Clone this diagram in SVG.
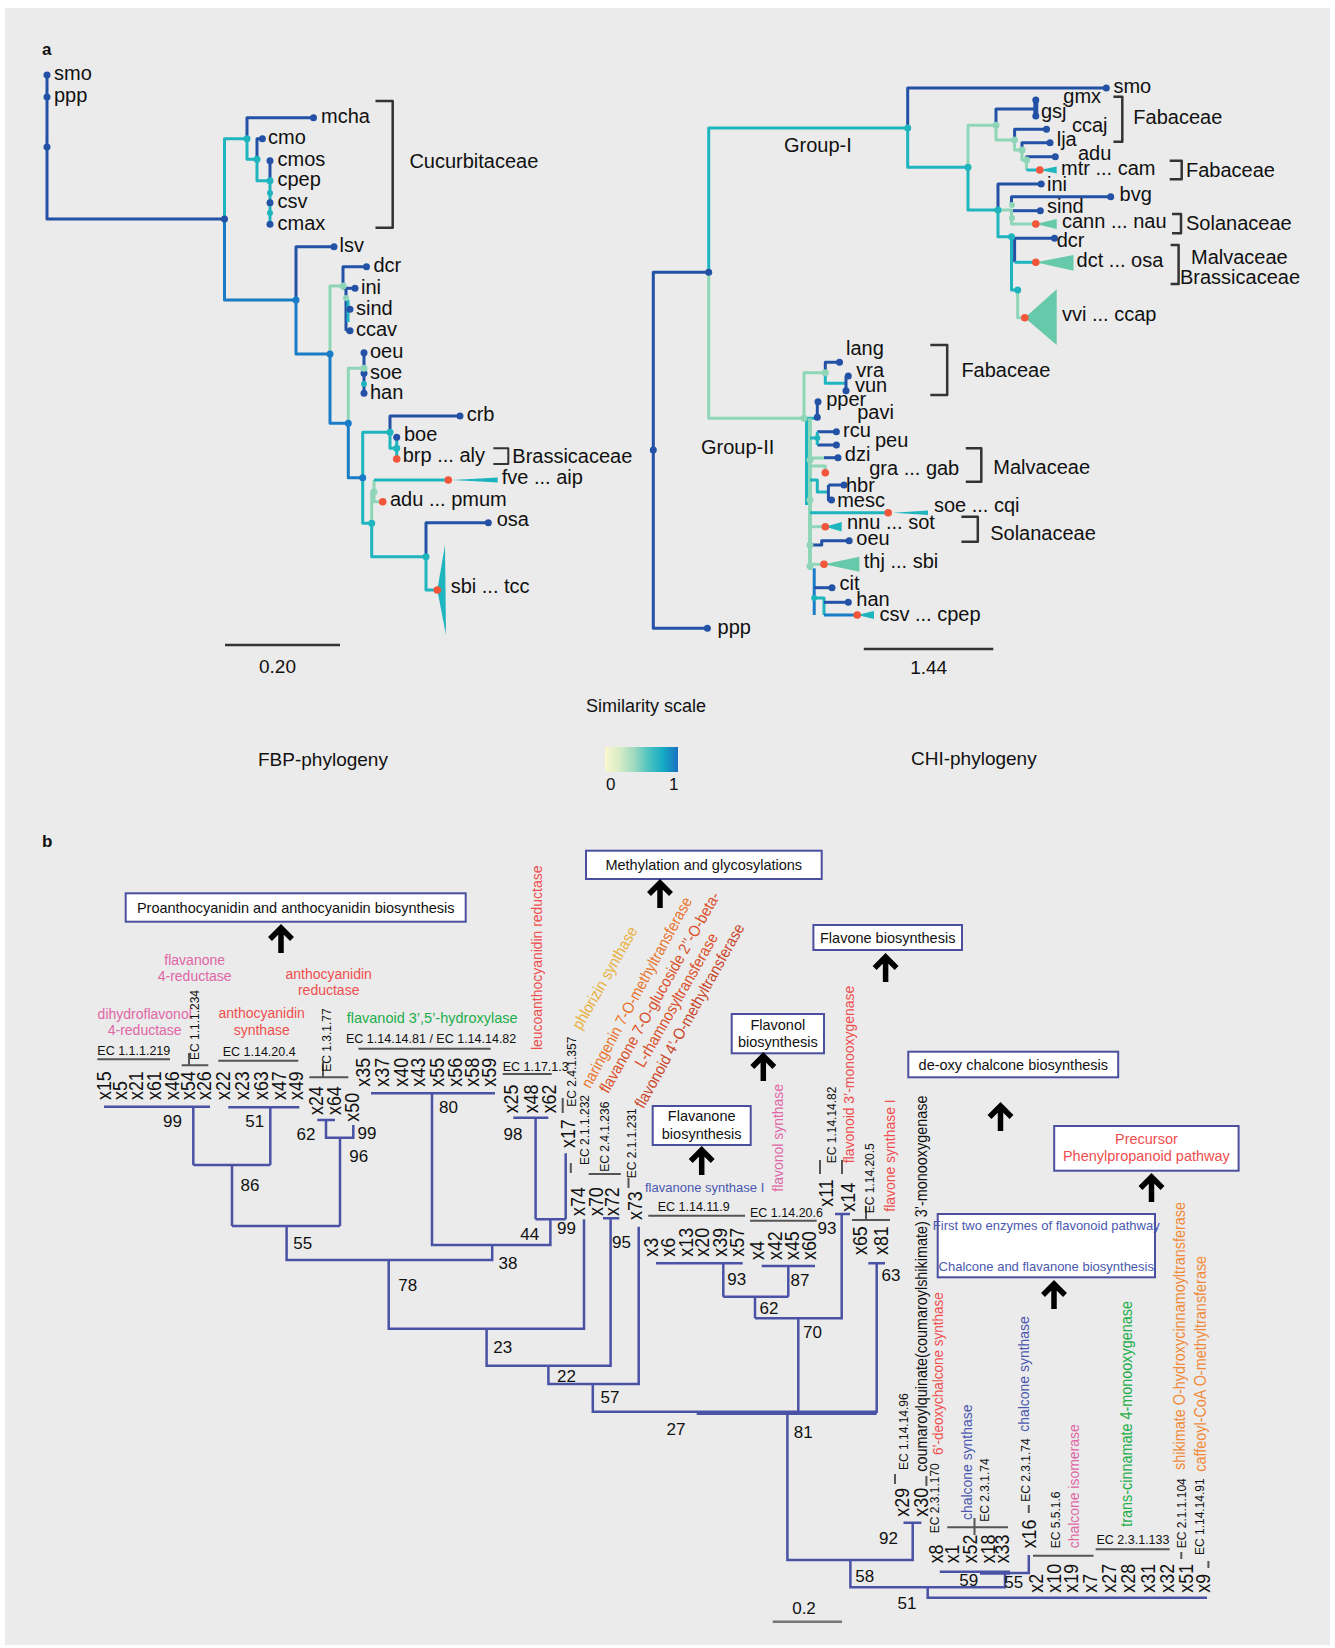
<svg xmlns="http://www.w3.org/2000/svg" width="1335" height="1648" viewBox="0 0 1335 1648">
<defs>
<linearGradient id="sim" x1="0" x2="1" y1="0" y2="0">
<stop offset="0" stop-color="#fbf7cf"/><stop offset="0.2" stop-color="#d6ecc6"/><stop offset="0.4" stop-color="#9fd9c0"/><stop offset="0.6" stop-color="#4cc2c0"/><stop offset="0.8" stop-color="#14aac4"/><stop offset="1" stop-color="#1a6fbf"/>
</linearGradient>
<path id="arr" d="M0,0 V-22 M-11,-14 L0,-25 L11,-14" stroke="#000" stroke-width="5.5" fill="none"/>
</defs>
<style>
text{font-family:"Liberation Sans",Arial,sans-serif;fill:#111}
.a20{font-size:20px}
.lab{font-size:19px}
.lf{font-size:21px}
.bs{font-size:17px}
.ec{font-size:12px}
.ech{font-size:12.5px}
.en{font-size:14px}
.en5{font-size:14.5px}
.er{font-size:15.5px}
.ed{font-size:16px}
.bxt{font-size:14.5px;text-anchor:middle}
.bx{fill:#fff;stroke:#4a4f9e;stroke-width:2}
.tr{stroke:#4a52a6;stroke-width:2.5;fill:none}
.gl{stroke:#555;stroke-width:2;fill:none}
.B{stroke:#2251a6}.M{stroke:#1a7cc6}.T{stroke:#1fb5be}.L{stroke:#8fd6b8}
.dB{fill:#2251a6}.dM{fill:#1a7cc6}.dT{fill:#1fb5be}.dL{fill:#8fd6b8}.dR{fill:#f2553a}
.red{fill:#f04e4e}.pink{fill:#e066a6}.grn{fill:#1fae4a}.org{fill:#f08a3a}.blu{fill:#4a58b0}
</style>
<rect width="1335" height="1648" fill="#fff"/>
<rect x="5" y="8" width="1325" height="1637" fill="#ebebeb"/>

<text x="42" y="55" style="font-size:17px;font-weight:bold">a</text>
<text x="42" y="847" style="font-size:17px;font-weight:bold">b</text>

<!-- FBP tree -->
<g id="fbp-connectors" fill="none" stroke-width="3" stroke-linejoin="round">
<path class="B" d="M47,75 V219 H224.5"/>
<path class="T" d="M224.5,219 V138.7 H247"/>
<path class="M" d="M224.5,219 V300 H296"/>
<path class="B" d="M247,138.7 V117.7 H313.5"/>
<path class="T" d="M247,138.7 V159.3 H257"/>
<path class="B" d="M257,159.3 V138.7 H262.4"/>
<path class="T" d="M257,159.3 V180.7 H270"/>
<path class="B" d="M270,160.7 V180.7"/>
<path class="T" d="M270,180.7 V224.3"/>
<path class="B" d="M296,300 V246.7 H334"/>
<path class="M" d="M296,300 V354 H330"/>
<path class="L" d="M330,354 V286 H343"/>
<path class="B" d="M343,286 V266.7 H366.5"/>
<path class="B" d="M343,288.3 H355 M346,288.3 V330.7 M346,309.3 H350 M346,330.7 H350"/>
<path class="T" d="M348,300 V322"/>
<path class="M" d="M330,354 V423.3 H348.3"/>
<path class="L" d="M348.3,423.3 V368.3 H364"/>
<path class="B" d="M364,352.7 V393.3"/>
<path class="M" d="M348.3,423.3 V477.7 H362.7"/>
<path class="T" d="M362.7,477.7 V432.3 H390"/>
<path class="B" d="M390,432.3 V416 H460"/>
<path class="T" d="M390,432.3 V448.3 H396.7 V437.3 M396.7,448.3 V457"/>
<path class="T" d="M362.7,477.7 V523.3 H371.7"/>
<path class="L" d="M371.7,523.3 V491.7 H374 V480"/>
<path class="T" d="M374,480 H448.3"/>
<path class="L" d="M374,491.7 V501.7 H382.7"/>
<path class="T" d="M371.7,523.3 V556.7 H426"/>
<path class="B" d="M426,556.7 V522.7 H488.3"/>
<path class="T" d="M426,556.7 V590 H437.3"/>
<path d="M375.5,101 H392.7 V227.7 H375.5" stroke="#333" stroke-width="2.5"/>
<path d="M493.3,448.3 H508.3 V464 H493.3" stroke="#333" stroke-width="2"/>
<path d="M225,645 H340" stroke="#333" stroke-width="2.5"/>
</g>
<g id="fbp-nodes">
<polygon points="452,480 497.7,477.5 497.7,482.5" fill="#1fb5be"/>
<polygon points="437.3,590 445,545 446,635" fill="#1fb5be"/>
<g class="dB">
<circle cx="47" cy="75" r="3.5"/><circle cx="47" cy="97" r="3.5"/><circle cx="47" cy="147" r="3.5"/><circle cx="224.5" cy="219" r="3.5"/><circle cx="313.5" cy="117.7" r="3.5"/><circle cx="262.4" cy="138.7" r="3.5"/><circle cx="270" cy="160.7" r="3.5"/><circle cx="270" cy="202.7" r="3.5"/><circle cx="270" cy="224.3" r="3.5"/><circle cx="334" cy="246.7" r="3.5"/><circle cx="366.5" cy="266.7" r="3.5"/><circle cx="355" cy="288.3" r="3.5"/><circle cx="350" cy="309.3" r="3.5"/><circle cx="350" cy="330.7" r="3.5"/><circle cx="364" cy="352.7" r="3.5"/><circle cx="364" cy="373.3" r="3.5"/><circle cx="364" cy="393.3" r="3.5"/><circle cx="460" cy="416" r="3.5"/><circle cx="396.7" cy="437.3" r="3.5"/><circle cx="488.3" cy="522.7" r="3.5"/>
</g>
<g class="dM"><circle cx="296" cy="300" r="3.5"/><circle cx="330" cy="354" r="3.5"/><circle cx="348.3" cy="423.3" r="3.5"/><circle cx="362.7" cy="477.7" r="3.5"/></g>
<g class="dT"><circle cx="247" cy="138.7" r="3.5"/><circle cx="257" cy="159.3" r="3.5"/><circle cx="270" cy="180.7" r="3.5"/><circle cx="270" cy="193" r="3"/><circle cx="270" cy="213" r="3"/><circle cx="364" cy="384" r="3"/><circle cx="390" cy="432.3" r="3.5"/><circle cx="396.7" cy="448.3" r="3.5"/><circle cx="371.7" cy="523.3" r="3.5"/><circle cx="426" cy="556.7" r="3.5"/></g>
<g class="dL"><circle cx="343" cy="286" r="3.5"/><circle cx="346" cy="298" r="3"/><circle cx="364" cy="368.3" r="3.5"/><circle cx="374" cy="491.7" r="3.5"/></g>
<g class="dR"><circle cx="396.7" cy="459" r="3.8"/><circle cx="448.3" cy="480" r="3.8"/><circle cx="382.7" cy="501.7" r="3.8"/><circle cx="437.3" cy="590" r="3.8"/></g>
</g>
<g id="fbp-labels" class="a20">
<text x="54" y="80">smo</text><text x="54" y="102">ppp</text>
<text x="321" y="123">mcha</text><text x="268" y="144">cmo</text>
<text x="277.5" y="166">cmos</text><text x="277.5" y="186">cpep</text><text x="277.5" y="208">csv</text><text x="277.5" y="229.5">cmax</text>
<text x="409.4" y="168">Cucurbitaceae</text>
<text x="339.6" y="252">lsv</text><text x="373.5" y="272">dcr</text>
<text x="361" y="293.5">ini</text><text x="356" y="314.5">sind</text><text x="356" y="336">ccav</text>
<text x="370" y="358">oeu</text><text x="370" y="378.5">soe</text><text x="370" y="398.5">han</text>
<text x="466.7" y="421">crb</text><text x="404" y="441">boe</text>
<text x="402.7" y="462">brp ...  aly</text><text x="512.3" y="463">Brassicaceae</text>
<text x="501.7" y="484">fve  ... aip</text><text x="390" y="506">adu ... pmum</text>
<text x="496.7" y="526">osa</text><text x="450.7" y="593">sbi ... tcc</text>
<text x="277.5" y="673" text-anchor="middle" class="lab">0.20</text>
</g>

<!-- CHI tree -->
<g id="chi-connectors" fill="none" stroke-width="3" stroke-linejoin="round">
<path class="B" d="M707.4,628.3 H653.3 V272.3 H708.7"/>
<path class="T" d="M708.7,272.3 V128 H907.7"/>
<path class="L" d="M708.7,272.3 V418.3 H804"/>
<path class="B" d="M907.7,128 V88 H1106.3"/>
<path class="T" d="M907.7,128 V167.3 H968"/>
<path class="L" d="M968,167.3 V125.3 H996"/>
<path class="B" d="M996,125.3 V109 H1035.8"/>
<path class="B" d="M1035.8,100 V116.7" stroke-width="5"/>
<path class="L" d="M996,125.3 V140 H1014.6 V150 H1022 V160 H1026.5 V170"/>
<path class="B" d="M1014.6,140 V129.3 H1046.5"/>
<path class="B" d="M1022,150 V142.7 H1050"/>
<path class="B" d="M1026.5,160 V156.7 H1055.3"/>
<path class="T" d="M1026.5,170 H1039.8"/>
<path class="T" d="M968,167.3 V210 H998"/>
<path class="B" d="M998,210 V184 H1041.2"/>
<path class="B" d="M1011.5,206 V196.7 H1110.7"/>
<path class="B" d="M1011.5,210.7 H1040.3"/>
<path class="L" d="M998,210 H1011.5 V224 H1035.8"/>
<path class="T" d="M998,210 V236.7 H1011.5"/>
<path class="B" d="M1011.5,238.3 H1054.5 M1014.6,238.3 V262.3"/>
<path class="T" d="M1014.6,262.3 H1035.8"/>
<path class="T" d="M1011.5,236.7 V290 H1017.7"/>
<path class="L" d="M1017.7,290 V317.7 H1024.8"/>
<path class="L" d="M804,418.3 V372.7 H825.3"/>
<path class="B" d="M825.3,372.7 V362.3 H839.5"/>
<path class="T" d="M825.3,372.7 V383.3 H846"/>
<path class="B" d="M846,376 V390.7"/>
<path class="T" d="M804,418.3 H817.3"/>
<path class="B" d="M817.3,401.7 V418.3"/>
<path class="L" d="M810,418.3 V570" stroke-width="4"/>
<path class="T" d="M806.5,418.3 V505"/>
<path class="B" d="M817.3,431.7 H836.4 M817.3,445 H836.4"/>
<path class="T" d="M810,438 H817.3 M817.3,431.7 V445"/>
<path class="B" d="M824,457.7 H838"/>
<path class="L" d="M810,458 H824 M810,466 H825.3 V472.7"/>
<path class="T" d="M810,480 H817.3 V492 H828.4"/>
<path class="B" d="M828.4,485 H844 M828.4,485 V500 H831.5"/>
<path class="T" d="M810,512.7 H888.2"/>
<path class="L" d="M810,526.7 H825.3"/>
<path class="B" d="M812,545 H821.7 V540.7 H849.2"/>
<path class="L" d="M810,564.3 H824"/>
<path class="M" d="M814.2,568.3 V615"/>
<path class="B" d="M814.2,587.7 H832"/>
<path class="T" d="M814.2,598 H824 V615"/>
<path class="B" d="M824,602.3 H848.3"/>
<path class="M" d="M824,615 H857.2"/>
<g stroke="#333" stroke-width="2.5">
<path d="M1113.4,96.7 H1122.3 V141.7 H1113.4"/>
<path d="M1169.7,160.7 H1181.7 V179.3 H1169.7"/>
<path d="M1172,214 H1181 V233.3 H1172"/>
<path d="M1170.6,245 H1178.6 V284 H1170.6"/>
<path d="M930.3,345 H947.2 V395 H930.3"/>
<path d="M965.8,448.3 H981.3 V481.7 H965.8"/>
<path d="M961.4,516.7 H977.8 V541.7 H961.4"/>
<path d="M863.8,649 H993.3"/>
</g>
</g>
<g id="chi-nodes">
<polygon points="1039.8,170 1056.7,166.5 1056.7,173.5" fill="#1fb5be"/>
<polygon points="1035.8,224 1056.7,219 1056.7,229" fill="#66c9aa"/>
<polygon points="1035.8,262.3 1073.5,255 1073.5,270.7" fill="#66c9aa"/>
<polygon points="1024.8,317.7 1056.7,289.3 1056.7,345" fill="#66c9aa"/>
<polygon points="893,512.7 928,510.5 928,514.9" fill="#1fb5be"/>
<polygon points="825.3,526.7 841.7,522 841.7,531.4" fill="#1fb5be"/>
<polygon points="824,564.3 859.4,556.7 859.4,571.7" fill="#66c9aa"/>
<polygon points="857.2,615 874,611 874,619" fill="#1fb5be"/>
<g class="dB">
<circle cx="707.4" cy="628.3" r="3.5"/><circle cx="653.3" cy="450" r="3.5"/><circle cx="708.7" cy="272.3" r="3.5"/><circle cx="1106.3" cy="88" r="3.5"/><circle cx="1035.8" cy="100" r="3.5"/><circle cx="1035.8" cy="116" r="3.5"/><circle cx="1046.5" cy="129.3" r="3.5"/><circle cx="1050" cy="142.7" r="3.5"/><circle cx="1055.3" cy="156.7" r="3.5"/><circle cx="1041.2" cy="184" r="3.5"/><circle cx="1110.7" cy="196.7" r="3.5"/><circle cx="1040.3" cy="210.7" r="3.5"/><circle cx="1054.5" cy="238.3" r="3.5"/><circle cx="839.5" cy="362.3" r="3.5"/><circle cx="848.3" cy="376" r="3.5"/><circle cx="846" cy="390.7" r="3.5"/><circle cx="818" cy="401.7" r="3.5"/><circle cx="817.3" cy="417.3" r="3.5"/><circle cx="836.4" cy="431.7" r="3.5"/><circle cx="836.4" cy="445" r="3.5"/><circle cx="838" cy="457.7" r="3.5"/><circle cx="844" cy="485" r="3.5"/><circle cx="831.5" cy="500" r="3.5"/><circle cx="849.2" cy="540.7" r="3.5"/><circle cx="832" cy="587.7" r="3.5"/><circle cx="848.3" cy="602.3" r="3.5"/>
</g>
<g class="dT"><circle cx="907.7" cy="128" r="3.5"/><circle cx="968" cy="167.3" r="3.5"/><circle cx="998" cy="210" r="3.5"/><circle cx="1011.5" cy="236.7" r="3.5"/><circle cx="1017.7" cy="290" r="3.5"/><circle cx="817.3" cy="438" r="3"/><circle cx="814.2" cy="598" r="3"/></g>
<g class="dL"><circle cx="804" cy="418.3" r="3.5"/><circle cx="996" cy="125.3" r="3.5"/><circle cx="1014.6" cy="140" r="3.5"/><circle cx="1022" cy="150" r="3.5"/><circle cx="1026.5" cy="160" r="3.5"/><circle cx="825.3" cy="372.7" r="3.5"/><circle cx="1012" cy="205" r="3"/><circle cx="1012" cy="218" r="3"/><circle cx="810" cy="460" r="3.5"/><circle cx="810" cy="500" r="3.5"/><circle cx="810" cy="545" r="3.5"/><circle cx="810" cy="566" r="3.5"/></g>
<g class="dR"><circle cx="1039.8" cy="170" r="3.8"/><circle cx="1035.8" cy="224" r="3.8"/><circle cx="1035.8" cy="262.3" r="3.8"/><circle cx="1024.8" cy="317.7" r="3.8"/><circle cx="825.3" cy="472.7" r="3.8"/><circle cx="888.2" cy="512.7" r="3.8"/><circle cx="825.3" cy="526.7" r="3.8"/><circle cx="824" cy="564.3" r="3.8"/><circle cx="857.2" cy="615" r="3.8"/></g>
</g>
<g id="chi-labels" class="a20">
<text x="1113.4" y="93">smo</text>
<text x="1063.3" y="103">gmx</text><text x="1041" y="118">gsj</text><text x="1072" y="132">ccaj</text>
<text x="1056.7" y="146">lja</text><text x="1078" y="160">adu</text><text x="1061" y="175">mtr ... cam</text>
<text x="1133.3" y="124">Fabaceae</text><text x="1186" y="177">Fabaceae</text>
<text x="1047" y="191">ini</text><text x="1119.6" y="201">bvg</text><text x="1047" y="213">sind</text>
<text x="1062" y="228">cann ... nau</text><text x="1186" y="230">Solanaceae</text>
<text x="1056.7" y="247">dcr</text><text x="1076.6" y="267">dct ... osa</text>
<text x="1191" y="264">Malvaceae</text><text x="1180" y="284">Brassicaceae</text>
<text x="1062" y="321">vvi ... ccap</text>
<text x="784" y="152">Group-I</text><text x="701" y="454">Group-II</text>
<text x="846" y="355">lang</text><text x="856.3" y="377">vra</text><text x="855" y="392">vun</text>
<text x="961.4" y="377">Fabaceae</text>
<text x="826.2" y="406">pper</text><text x="857.2" y="419">pavi</text>
<text x="843" y="437">rcu</text><text x="875" y="447">peu</text><text x="844.8" y="461">dzi</text>
<text x="869.2" y="475">gra ... gab</text><text x="993.3" y="474">Malvaceae</text>
<text x="846" y="492">hbr</text><text x="837.2" y="507">mesc</text>
<text x="933.9" y="512">soe ... cqi</text><text x="847" y="529">nnu ... sot</text>
<text x="990.2" y="540">Solanaceae</text>
<text x="856.3" y="545">oeu</text><text x="863.8" y="568">thj ... sbi</text>
<text x="839.5" y="590">cit</text><text x="856.3" y="606">han</text><text x="879.4" y="621">csv ... cpep</text>
<text x="717.6" y="634">ppp</text>
<text x="928.7" y="674" text-anchor="middle" class="lab">1.44</text>
</g>

<!-- legend -->
<g id="legend">
<text x="646" y="712" text-anchor="middle" style="font-size:18px">Similarity scale</text>
<text x="258" y="766" class="lab">FBP-phylogeny</text>
<text x="911" y="765" class="lab">CHI-phylogeny</text>
<rect x="605" y="747" width="73" height="25" fill="url(#sim)"/>
<text x="606" y="790" style="font-size:17px">0</text>
<text x="669" y="790" style="font-size:17px">1</text>
</g>

<!-- Part b connectors -->
<g id="b-connectors">
<path class="tr" d="M104,1106.7 H210 M193.3,1106.7 V1165 M228.3,1107.3 H299.3 M270.3,1107.3 V1165 M193.3,1165 H270.3 M232,1165 V1226 M317.3,1120 H335 M326,1120 V1137.7 H353.3 V1125 M340,1137.7 V1226 M232,1226 H340 M286.6,1226 V1260 H492.2 V1245 M371,1093.3 H495 M432,1093.3 V1245 H550.4 V1219.3 M535.6,1219.3 H565.7 M513.3,1117.7 H548.3 M535.6,1117.7 V1219.3 M565.7,1153.3 V1219.3 M388.7,1260 V1328.7 H584 V1219.3 M486.6,1328.7 V1365.7 H610.6 V1218.3 M603,1218.3 H619.3 M548.4,1365.7 V1384 H638.7 V1226.7 M592.8,1384 V1411.7 H876.7 V1263.3 M868.3,1263.3 H885 M696.7,1413.8 H876.7 M798.3,1411.7 V1318.3 M755,1318.3 H841.7 V1214 M835,1214 H850 M755,1318.3 V1296.7 M723.3,1296.7 H788.3 M723.3,1296.7 V1263.3 M656,1263.3 H742.7 M788.3,1296.7 V1266 M761.7,1266 H815 M787.4,1411.7 V1560 H912.7 V1522.7 M903.5,1522.7 H921.4 M850.4,1560 V1587.3 H1005 V1571.7 M939.8,1571.7 H1010 M980,1573.5 H1010 M1005,1573 H1028.8 V1555 M927.7,1587.3 V1597.7 H1207"/>
<path class="gl" d="M97.3,1059.3 H170 M181.7,1065.3 H208.3 M189,1053 V1066 M218.3,1060.7 H298.3 M309.3,1077.3 H348.3 M323,1062 V1077 M358.3,1048.7 H490.7 M502.7,1074 H551.7 M562.7,1098 V1113 M570.8,1163 V1173 M588.7,1174 H620.8 M628.5,1178 V1188 M648.3,1215.7 H745 M750,1220.7 H816.7 M820,1160 V1174 M842,1160 V1174 M852,1220 H890 M866,1206 V1220 M895,1474 V1484 M926.4,1476 V1486 M947.3,1527.3 H1008 M974.5,1518 V1535 M1028.8,1505 V1513 M1033,1555.7 H1093.5 M1095.6,1549.3 H1169.6 M1181.3,1552 V1559 M1208.4,1561 V1568"/>
<path d="M772.7,1621.7 H842" stroke="#777" stroke-width="2.5"/>
</g>

<!-- Part b boxes -->
<g id="box-proantho"><rect class="bx" x="125.7" y="893.3" width="340" height="28.4"/><text class="bxt" x="295.7" y="913">Proanthocyanidin and anthocyanidin biosynthesis</text><use href="#arr" x="281" y="953"/></g>
<g id="box-methyl"><rect class="bx" x="586" y="850.7" width="235.7" height="28.3"/><text class="bxt" x="703.8" y="869.5">Methylation and glycosylations</text><use href="#arr" x="660" y="908"/></g>
<g id="box-flavone"><rect class="bx" x="813.4" y="925" width="148.6" height="25"/><text class="bxt" x="887.7" y="942.5">Flavone biosynthesis</text><use href="#arr" x="885.6" y="982"/></g>
<g id="box-flavonol"><rect class="bx" x="731.7" y="1014" width="92.3" height="39.3"/><text class="bxt" x="777.8" y="1029.5">Flavonol</text><text class="bxt" x="777.8" y="1047">biosynthesis</text><use href="#arr" x="763.3" y="1081"/></g>
<g id="box-flavanone"><rect class="bx" x="652.7" y="1106" width="98" height="39"/><text class="bxt" x="701.7" y="1120.5">Flavanone</text><text class="bxt" x="701.7" y="1138.5">biosynthesis</text><use href="#arr" x="701.7" y="1175"/></g>
<g id="box-deoxy"><rect class="bx" x="908.3" y="1051.7" width="209.9" height="25.6"/><text class="bxt" x="1013.3" y="1069.5">de-oxy chalcone biosynthesis</text><use href="#arr" x="1000.5" y="1131"/></g>
<g id="box-precursor"><rect class="bx" x="1054.2" y="1126" width="184.4" height="44.7"/><text class="bxt red" x="1146.4" y="1143.5">Precursor</text><text class="bxt red" x="1146.4" y="1160.5">Phenylpropanoid pathway</text><use href="#arr" x="1151.5" y="1202"/></g>
<g id="box-first"><rect class="bx" x="937.7" y="1214" width="217.3" height="63.3"/><text class="blu" x="1046.3" y="1229.5" text-anchor="middle" style="font-size:13px">First two enzymes of flavonoid pathway</text><text class="blu" x="1046.3" y="1271" text-anchor="middle" style="font-size:13px">Chalcone and flavanone biosynthesis</text><use href="#arr" x="1054" y="1309"/></g>

<!-- enzyme labels -->
<g id="enzymes" class="en">
<text class="pink" x="194.7" y="964.5" text-anchor="middle">flavanone</text>
<text class="pink" x="194.7" y="980.5" text-anchor="middle">4-reductase</text>
<text class="red" x="328.7" y="978.5" text-anchor="middle">anthocyanidin</text>
<text class="red" x="328.7" y="994.5" text-anchor="middle">reductase</text>
<text class="pink" x="144.7" y="1018.5" text-anchor="middle">dihydroflavonol</text>
<text class="pink" x="144.7" y="1034.5" text-anchor="middle">4-reductase</text>
<text class="red" x="261.7" y="1017.5" text-anchor="middle">anthocyanidin</text>
<text class="red" x="261.7" y="1034.5" text-anchor="middle">synthase</text>
<text class="grn en5" x="346.7" y="1023">flavanoid 3’,5’-hydroxylase</text>
<text class="blu" x="645" y="1192" style="font-size:13px">flavanone synthase I</text>
<text class="red er" transform="translate(541.5,1050) rotate(-90) scale(0.9,1)">leucoanthocyanidin reductase</text>
<text class="pink er" transform="translate(783.2,1191.7) rotate(-90) scale(0.9,1)">flavonol synthase</text>
<text class="red er" transform="translate(853.8,1163.3) rotate(-90) scale(0.9,1)">flavonoid 3’-monooxygenase</text>
<text class="red er" transform="translate(894.5,1211.7) rotate(-90) scale(0.9,1)">flavone synthase I</text>
<text style="font-size:16px" transform="translate(926.5,1471.7) rotate(-90) scale(0.9,1)">coumaroylquinate(coumaroylshikimate) 3’-monooxygenase</text>
<text class="red" style="font-size:15px" transform="translate(942.5,1455) rotate(-90) scale(0.9,1)">6’-deoxychalcone synthase</text>
<text class="blu er" transform="translate(971.5,1520) rotate(-90) scale(0.9,1)">chalcone synthase</text>
<text class="blu er" transform="translate(1028.9,1431.7) rotate(-90) scale(0.9,1)">chalcone  synthase</text>
<text class="pink er" transform="translate(1079,1548.3) rotate(-90) scale(0.9,1)">chalcone isomerase</text>
<text class="grn ed" transform="translate(1131.5,1526.7) rotate(-90) scale(0.9,1)">trans-cinnamate 4-monooxygenase</text>
<text class="org ed" transform="translate(1185,1470) rotate(-90) scale(0.9,1)">shikimate O-hydroxycinnamoyltransferase</text>
<text class="org ed" transform="translate(1205.5,1471.7) rotate(-90) scale(0.9,1)">caffeoyl-CoA O-methyltransferase</text>
<text class="ed" style="fill:#e8b040" transform="translate(581,1030.8) rotate(-60.4) scale(0.9,1)">phlorizin synthase</text>
<text class="ed" style="fill:#e8742e" transform="translate(590.3,1089.2) rotate(-61.5) scale(0.9,1)">naringenin 7-O-methyltransferase</text>
<text class="ed" style="fill:#d9502a" transform="translate(608.3,1094.2) rotate(-60.5) scale(0.9,1)">flavanone 7-O-glucoside 2’’-O-beta-</text>
<text class="ed" style="fill:#d9502a" transform="translate(643.6,1068.5) rotate(-60.3) scale(0.9,1)">L-rhamnosyltransferase</text>
<text class="ed" style="fill:#c9452a" transform="translate(643.6,1109.2) rotate(-60.9) scale(0.9,1)">flavonoid 4’-O-methyltransferase</text>
</g>

<!-- EC labels -->
<g id="ec-labels">
<text class="ech" x="346" y="1042.5">EC 1.14.14.81 / EC 1.14.14.82</text>
<text class="ech" x="97.3" y="1054.5">EC 1.1.1.219</text>
<text class="ech" x="222.7" y="1055.5">EC 1.14.20.4</text>
<text class="ech" x="502.7" y="1071">EC 1.17.1.3</text>
<text class="ech" x="657.7" y="1211">EC 1.14.11.9</text>
<text class="ech" x="750" y="1217">EC 1.14.20.6</text>
<text class="ech" x="1096.5" y="1544">EC 2.3.1.133</text>
<text class="ec" transform="translate(199.3,1060) rotate(-90)">EC 1.1.1.234</text>
<text class="ec" transform="translate(331,1071.7) rotate(-90)">EC 1.3.1.77</text>
<text class="ec" transform="translate(576,1106.7) rotate(-90)">EC 2.4.1.357</text>
<text class="ec" transform="translate(589.3,1165) rotate(-90)">EC 2.1.1.232</text>
<text class="ec" transform="translate(609.3,1171.7) rotate(-90)">EC 2.4.1.236</text>
<text class="ec" transform="translate(636,1178.3) rotate(-90)">EC 2.1.1.231</text>
<text class="ec" transform="translate(836,1163.3) rotate(-90)">EC 1.14.14.82</text>
<text class="ec" transform="translate(874.3,1213.3) rotate(-90)">EC 1.14.20.5</text>
<text class="ec" transform="translate(907.8,1470) rotate(-90)">EC 1.14.14.96</text>
<text class="ec" transform="translate(939.1,1533.3) rotate(-90)">EC 2.3.1.170</text>
<text class="ec" transform="translate(989.3,1521.7) rotate(-90)">EC 2.3.1.74</text>
<text class="ec" transform="translate(1030.2,1501.7) rotate(-90)">EC 2.3.1.74</text>
<text class="ec" transform="translate(1060.3,1548.3) rotate(-90)">EC 5.5.1.6</text>
<text class="ec" transform="translate(1185.6,1548.3) rotate(-90)">EC 2.1.1.104</text>
<text class="ec" transform="translate(1204.3,1555) rotate(-90)">EC 1.14.14.91</text>
</g>

<!-- leaf labels -->
<g id="leaves" class="lf">
<text transform="translate(110.8,1100) rotate(-90) scale(0.85,1)">x15</text>
<text transform="translate(126.8,1100) rotate(-90) scale(0.85,1)">x5</text>
<text transform="translate(142.5,1100) rotate(-90) scale(0.85,1)">x21</text>
<text transform="translate(160.8,1100) rotate(-90) scale(0.85,1)">x61</text>
<text transform="translate(179.2,1100) rotate(-90) scale(0.85,1)">x46</text>
<text transform="translate(194.8,1100) rotate(-90) scale(0.85,1)">x54</text>
<text transform="translate(210.8,1100) rotate(-90) scale(0.85,1)">x26</text>
<text transform="translate(230.2,1100) rotate(-90) scale(0.85,1)">x22</text>
<text transform="translate(248.5,1100) rotate(-90) scale(0.85,1)">x23</text>
<text transform="translate(267.5,1100) rotate(-90) scale(0.85,1)">x63</text>
<text transform="translate(285.8,1100) rotate(-90) scale(0.85,1)">x47</text>
<text transform="translate(302.5,1100) rotate(-90) scale(0.85,1)">x49</text>
<text transform="translate(322.5,1115) rotate(-90) scale(0.85,1)">x24</text>
<text transform="translate(340.8,1115) rotate(-90) scale(0.85,1)">x64</text>
<text transform="translate(359.2,1121.7) rotate(-90) scale(0.85,1)">x50</text>
<text transform="translate(370.2,1086.7) rotate(-90) scale(0.85,1)">x35</text>
<text transform="translate(388.5,1086.7) rotate(-90) scale(0.85,1)">x37</text>
<text transform="translate(407.5,1086.7) rotate(-90) scale(0.85,1)">x40</text>
<text transform="translate(425.2,1086.7) rotate(-90) scale(0.85,1)">x43</text>
<text transform="translate(443.5,1086.7) rotate(-90) scale(0.85,1)">x55</text>
<text transform="translate(461.5,1086.7) rotate(-90) scale(0.85,1)">x56</text>
<text transform="translate(479.2,1086.7) rotate(-90) scale(0.85,1)">x58</text>
<text transform="translate(495.8,1086.7) rotate(-90) scale(0.85,1)">x59</text>
<text transform="translate(517.5,1113.3) rotate(-90) scale(0.85,1)">x25</text>
<text transform="translate(537.5,1113.3) rotate(-90) scale(0.85,1)">x48</text>
<text transform="translate(555.8,1113.3) rotate(-90) scale(0.85,1)">x62</text>
<text transform="translate(574.8,1148) rotate(-90) scale(0.85,1)">x17</text>
<text transform="translate(584.9,1216) rotate(-90) scale(0.85,1)">x74</text>
<text transform="translate(602.8,1216) rotate(-90) scale(0.85,1)">x70</text>
<text transform="translate(619.1,1216) rotate(-90) scale(0.85,1)">x72</text>
<text transform="translate(642.1,1220) rotate(-90) scale(0.85,1)">x73</text>
<text transform="translate(657.5,1256.7) rotate(-90) scale(0.85,1)">x3</text>
<text transform="translate(674.8,1256.7) rotate(-90) scale(0.85,1)">x6</text>
<text transform="translate(692.5,1256.7) rotate(-90) scale(0.85,1)">x13</text>
<text transform="translate(709.2,1256.7) rotate(-90) scale(0.85,1)">x20</text>
<text transform="translate(726.8,1256.7) rotate(-90) scale(0.85,1)">x39</text>
<text transform="translate(744.2,1256.7) rotate(-90) scale(0.85,1)">x57</text>
<text transform="translate(764.2,1260) rotate(-90) scale(0.85,1)">x4</text>
<text transform="translate(781.5,1260) rotate(-90) scale(0.85,1)">x42</text>
<text transform="translate(799.2,1260) rotate(-90) scale(0.85,1)">x45</text>
<text transform="translate(815.8,1260) rotate(-90) scale(0.85,1)">x60</text>
<text transform="translate(832.5,1206.7) rotate(-90) scale(0.85,1)">x11</text>
<text transform="translate(854.8,1211.7) rotate(-90) scale(0.85,1)">x14</text>
<text transform="translate(866.5,1255) rotate(-90) scale(0.85,1)">x65</text>
<text transform="translate(888.2,1255) rotate(-90) scale(0.85,1)">x81</text>
<text transform="translate(908.9,1516.7) rotate(-90) scale(0.85,1)">x29</text>
<text transform="translate(927.7,1516.7) rotate(-90) scale(0.85,1)">x30</text>
<text transform="translate(943.1,1563.3) rotate(-90) scale(0.85,1)">x8</text>
<text transform="translate(959,1563.3) rotate(-90) scale(0.85,1)">x1</text>
<text transform="translate(976.5,1563.3) rotate(-90) scale(0.85,1)">x52</text>
<text transform="translate(994.5,1563.3) rotate(-90) scale(0.85,1)">x18</text>
<text transform="translate(1009.1,1563.3) rotate(-90) scale(0.85,1)">x33</text>
<text transform="translate(1036.3,1548.3) rotate(-90) scale(0.85,1)">x16</text>
<text transform="translate(1042.5,1592.7) rotate(-90) scale(0.85,1)">x2</text>
<text transform="translate(1060.5,1592.7) rotate(-90) scale(0.85,1)">x10</text>
<text transform="translate(1078.1,1592.7) rotate(-90) scale(0.85,1)">x19</text>
<text transform="translate(1096.9,1592.7) rotate(-90) scale(0.85,1)">x7</text>
<text transform="translate(1115.6,1592.7) rotate(-90) scale(0.85,1)">x27</text>
<text transform="translate(1135.3,1592.7) rotate(-90) scale(0.85,1)">x28</text>
<text transform="translate(1155.3,1592.7) rotate(-90) scale(0.85,1)">x31</text>
<text transform="translate(1174.1,1592.7) rotate(-90) scale(0.85,1)">x32</text>
<text transform="translate(1192.9,1592.7) rotate(-90) scale(0.85,1)">x51</text>
<text transform="translate(1209.6,1592.7) rotate(-90) scale(0.85,1)">x9</text>
</g>

<!-- bootstrap values -->
<g id="bootstrap" class="bs" text-anchor="middle">
<text x="172.5" y="1127">99</text><text x="254.7" y="1127">51</text>
<text x="306" y="1140">62</text><text x="367" y="1139">99</text><text x="358.8" y="1162">96</text>
<text x="448.5" y="1113">80</text><text x="513" y="1140">98</text>
<text x="250" y="1191">86</text><text x="302.7" y="1249">55</text>
<text x="508" y="1268.5">38</text><text x="529.8" y="1240">44</text><text x="566.5" y="1234">99</text>
<text x="407.8" y="1291">78</text><text x="502.7" y="1353">23</text><text x="621.5" y="1248">95</text>
<text x="566.5" y="1382">22</text><text x="610" y="1403">57</text>
<text x="736.7" y="1284.5">93</text><text x="800" y="1285.5">87</text><text x="769" y="1313.5">62</text>
<text x="827" y="1233.5">93</text><text x="812.5" y="1338">70</text><text x="891" y="1281">63</text>
<text x="676" y="1434.5">27</text><text x="803.3" y="1438">81</text>
<text x="888.5" y="1544">92</text><text x="864.8" y="1582">58</text><text x="968.7" y="1585.5">59</text>
<text x="1013.8" y="1588">55</text><text x="907" y="1609">51</text>
<text x="804" y="1614">0.2</text>
</g>
</svg>
